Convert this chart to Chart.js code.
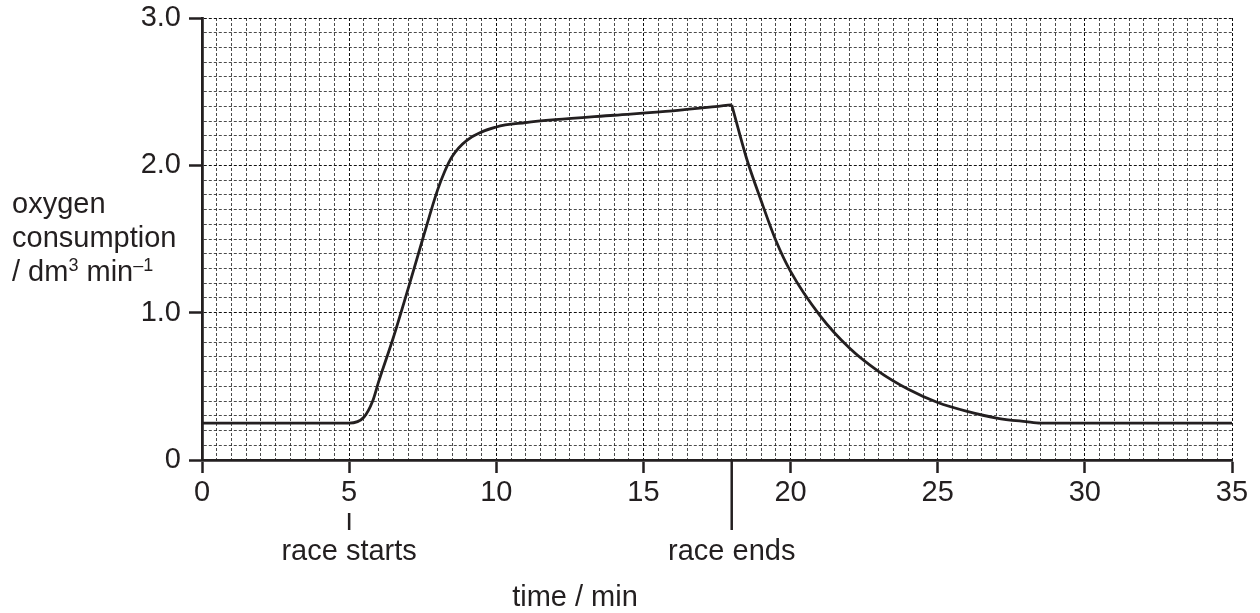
<!DOCTYPE html>
<html>
<head>
<meta charset="utf-8">
<title>Oxygen consumption during a race</title>
<script src="https://cdn.jsdelivr.net/npm/chart.js@4"></script>
<style>
  html, body { margin: 0; padding: 0; background: #fff; }
  #o2Chart { display: block; }
</style>
</head>
<body>
<canvas id="o2Chart" width="1260" height="613"></canvas>
<script>
// data
const riseTimes  = [0, 5, 5.5, 5.8, 6, 6.5, 7, 7.5, 8, 8.25, 8.5, 9, 10, 11, 12, 14, 16, 18];
const riseValues = [0.25, 0.25, 0.29, 0.40, 0.53, 0.83, 1.16, 1.50, 1.83, 1.96, 2.06, 2.17, 2.26, 2.29, 2.31, 2.34, 2.37, 2.41];

const recoveryTimes  = [18, 18.5, 19, 19.5, 20, 21, 22, 23, 24, 25, 26, 27, 28, 28.5, 35];
const recoveryValues = [2.41, 2.05, 1.76, 1.49, 1.28, 0.98, 0.76, 0.60, 0.48, 0.39, 0.33, 0.285, 0.26, 0.25, 0.25];

const xTickLabels = ['0', '5', '10', '15', '20', '25', '30', '35'];
const yTickLabels = ['0', '1.0', '2.0', '3.0'];

const markerTimes  = [5, 18];
const markerLabels = ['race starts', 'race ends'];

const ink = '#231f20';
const FONT = '"Liberation Sans", Arial, Helvetica, sans-serif';
const SIZE = 29;
const toPoints = (xs, ys) => xs.map((x, i) => ({ x: x, y: ys[i] }));

// ===============================
// axis titles + race markers
// ===============================
const annotations = {
    id: 'annotations',
    afterDraw(chart) {
        const { ctx, chartArea, scales } = chart;
        const b = chartArea.bottom;
        ctx.save();
        ctx.fillStyle = ink;
        ctx.strokeStyle = ink;
        ctx.lineWidth = 2.5;
        ctx.font = SIZE + 'px ' + FONT;
        ctx.textBaseline = 'alphabetic';

        ctx.textAlign = 'center';
        markerTimes.forEach((t, i) => {
            const x = scales.x.getPixelForValue(t);
            const top = i === 0 ? b + 53 : b;
            ctx.beginPath();
            ctx.moveTo(x, top);
            ctx.lineTo(x, b + 70);
            ctx.stroke();
            ctx.fillText(markerLabels[i], x, b + 100);
        });

        ctx.fillText('time / min', 575, 606);

        // y title
        ctx.textAlign = 'left';
        ctx.fillText('oxygen', 12, 213);
        ctx.fillText('consumption', 12, 247);
        let x = 12;
        const y = 281;
        const part = (txt, size, dy) => {
            ctx.font = size + 'px ' + FONT;
            ctx.fillText(txt, x, y + dy);
            x += ctx.measureText(txt).width;
        };
        part('/ dm', SIZE, 0);
        part('3', 18, -10);
        part(' min', SIZE, 0);
        part('\u20131', 18, -10);
        ctx.restore();
    }
};

const gridColor = major => (major ? 'rgba(15,15,15,1)' : 'rgba(30,30,30,0.8)');

new Chart(document.getElementById('o2Chart').getContext('2d'), {
    type: 'line',
    data: {
        datasets: [{
            data: toPoints(riseTimes, riseValues),
            borderColor: ink,
            borderWidth: 2.8,
            pointRadius: 0,
            cubicInterpolationMode: 'monotone',
            fill: false
        }, {
            data: toPoints(recoveryTimes, recoveryValues),
            borderColor: ink,
            borderWidth: 2.8,
            pointRadius: 0,
            cubicInterpolationMode: 'monotone',
            fill: false
        }]
    },
    options: {
        responsive: false,
        animation: false,
        events: [],
        layout: { padding: { top: 18, right: 28, left: 0, bottom: 0 } },
        plugins: {
            legend: { display: false },
            tooltip: { enabled: false }
        },
        scales: {
            x: {
                type: 'linear',
                min: 0,
                max: 35,
                afterFit: s => { s.height = 153; },
                ticks: {
                    stepSize: 0.5,
                    autoSkip: false,
                    maxRotation: 0,
                    padding: 3,
                    color: ink,
                    font: { family: FONT, size: SIZE },
                    callback: v => (v % 5 === 0 ? xTickLabels[v / 5] : '')
                },
                grid: {
                    color: c => gridColor(c.tick && c.tick.value % 5 === 0),
                    lineWidth: 1,
                    tickLength: 13,
                    tickWidth: 2.5,
                    tickColor: c => (c.tick && c.tick.value % 5 === 0 ? ink : 'rgba(0,0,0,0)')
                },
                border: { color: ink, width: 2.8, dash: [3, 2] }
            },
            y: {
                min: 0,
                max: 3,
                afterFit: s => { s.width = 202; s.paddingTop = 0; s.paddingBottom = 0; },
                ticks: {
                    stepSize: 0.1,
                    autoSkip: false,
                    padding: 8,
                    color: ink,
                    font: { family: FONT, size: SIZE },
                    callback: v => {
                        const k = Math.round(v * 10);
                        return k % 10 === 0 ? yTickLabels[k / 10] : '';
                    }
                },
                grid: {
                    color: c => gridColor(c.tick && Math.round(c.tick.value * 10) % 10 === 0),
                    lineWidth: 1,
                    tickLength: 13,
                    tickWidth: 2.5,
                    tickColor: c => (c.tick && Math.round(c.tick.value * 10) % 10 === 0 ? ink : 'rgba(0,0,0,0)')
                },
                border: { color: ink, width: 2.8, dash: [3, 2] }
            }
        }
    },
    plugins: [annotations]
});
</script>
</body>
</html>
